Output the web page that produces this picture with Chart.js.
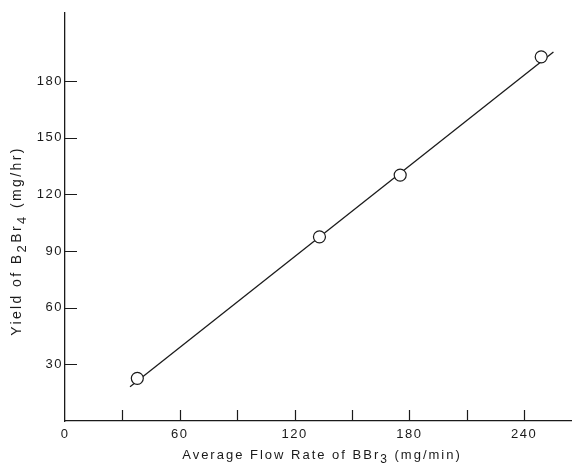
<!DOCTYPE html>
<html lang="en">
<head>
    <meta charset="UTF-8">
    <title>Yield of B2Br4 vs flow rate of BBr3</title>
    <script src="https://cdn.jsdelivr.net/npm/chart.js"></script>
    <style>
        html, body { margin: 0; padding: 0; background: #fff; overflow: hidden; }
        #wrap { width: 572px; height: 473px; }
    </style>
</head>
<body>
    <div id="wrap">
        <canvas id="yieldChart"></canvas>
    </div>

    <script>
        // measured points (flow rate mg/min, yield mg/hr)
        const flowRate = [37.8, 133.0, 175.2, 248.9];
        const yieldB2Br4 = [22.6, 97.5, 130.2, 192.8];

        // ends of the drawn straight line
        const fitX = [34.0, 255.3];
        const fitY = [18.1, 195.4];

        // axis ticks
        const xTickLabels = [0, 60, 120, 180, 240];
        const xTickMarks = [30, 60, 90, 120, 150, 180, 210, 240];
        const yTickLabels = [30, 60, 90, 120, 150, 180];

        // axis titles, [text, isSubscript]
        const xTitle = [['Average Flow Rate of BBr', false], ['3', true], [' (mg/min)', false]];
        const yTitle = [['Yield of B', false], ['2', true], ['Br', false], ['4', true], [' (mg/hr)', false]];

        const ink = '#1a1a1a';
        const font = "'Liberation Sans', Arial, sans-serif";

        // draws a title with real subscripts, centred on (cx, cy)
        function drawTitle(ctx, parts, cx, cy, angle, size, gap) {
            ctx.save();
            ctx.translate(cx, cy);
            ctx.rotate(angle);
            ctx.fillStyle = ink;
            ctx.letterSpacing = gap + 'px';
            ctx.textBaseline = 'middle';
            ctx.textAlign = 'left';
            const fontOf = sub => (sub ? size - 1 : size) + 'px ' + font;
            let total = 0;
            parts.forEach(([t, sub]) => { ctx.font = fontOf(sub); total += ctx.measureText(t).width; });
            let x = -total / 2;
            parts.forEach(([t, sub]) => {
                ctx.font = fontOf(sub);
                ctx.fillText(t, x, sub ? 5 : 0);
                x += ctx.measureText(t).width;
            });
            ctx.restore();
        }

        const paperPlugin = {
            id: 'paper',
            beforeDraw(chart) {
                chart.ctx.letterSpacing = '1.5px';
            },
            afterDraw(chart) {
                const ctx = chart.ctx;
                const xs = chart.scales.x;
                const ys = chart.scales.y;
                ctx.save();
                ctx.strokeStyle = ink;
                ctx.lineWidth = 1.2;
                ctx.beginPath();
                xTickMarks.forEach(v => {
                    const px = Math.round(xs.getPixelForValue(v)) + 0.5;
                    ctx.moveTo(px, ys.bottom);
                    ctx.lineTo(px, ys.bottom - 11);
                });
                yTickLabels.forEach(v => {
                    const py = Math.round(ys.getPixelForValue(v)) + 0.5;
                    ctx.moveTo(xs.left, py);
                    ctx.lineTo(xs.left + 12, py);
                });
                ctx.stroke();
                ctx.restore();

                drawTitle(ctx, xTitle, 322, 455, 0, 13, 2);
                drawTitle(ctx, yTitle, 17, 241, -Math.PI / 2, 14, 2.4);
            }
        };

        const ctx = document.getElementById('yieldChart').getContext('2d');
        new Chart(ctx, {
            type: 'scatter',
            data: {
                datasets: [
                    {
                        label: 'Yield',
                        data: flowRate.map((x, i) => ({ x: x, y: yieldB2Br4[i] })),
                        pointRadius: 6,
                        pointBackgroundColor: '#fff',
                        pointBorderColor: ink,
                        pointBorderWidth: 1.2,
                        order: 0
                    },
                    {
                        label: 'Fit',
                        type: 'line',
                        data: fitX.map((x, i) => ({ x: x, y: fitY[i] })),
                        borderColor: ink,
                        borderWidth: 1.3,
                        pointRadius: 0,
                        fill: false,
                        order: 1
                    }
                ]
            },
            options: {
                responsive: true,
                maintainAspectRatio: false,
                animation: false,
                layout: { autoPadding: false, padding: { top: 13, right: 0, left: 0, bottom: 0 } },
                plugins: {
                    legend: { display: false },
                    tooltip: { enabled: false }
                },
                scales: {
                    x: {
                        type: 'linear',
                        min: 0,
                        max: 265,
                        afterBuildTicks: s => { s.ticks = xTickLabels.map(v => ({ value: v })); },
                        afterFit: s => {
                            s.height = 52;
                            s.paddingLeft = 0;
                            s.paddingRight = 0;
                        },
                        grid: { display: false, drawTicks: false },
                        border: { display: true, color: ink, width: 1.3 },
                        ticks: {
                            color: ink,
                            padding: 6,
                            maxRotation: 0,
                            font: { family: font, size: 13 }
                        }
                    },
                    y: {
                        type: 'linear',
                        min: 0,
                        max: 216,
                        afterBuildTicks: s => { s.ticks = yTickLabels.map(v => ({ value: v })); },
                        afterFit: s => {
                            s.width = 65;
                            s.paddingTop = 0;
                            s.paddingBottom = 0;
                        },
                        grid: { display: false, drawTicks: false },
                        border: { display: true, color: ink, width: 1.3 },
                        ticks: {
                            color: ink,
                            padding: 2,
                            font: { family: font, size: 13 }
                        }
                    }
                }
            },
            plugins: [paperPlugin]
        });
    </script>
</body>
</html>
